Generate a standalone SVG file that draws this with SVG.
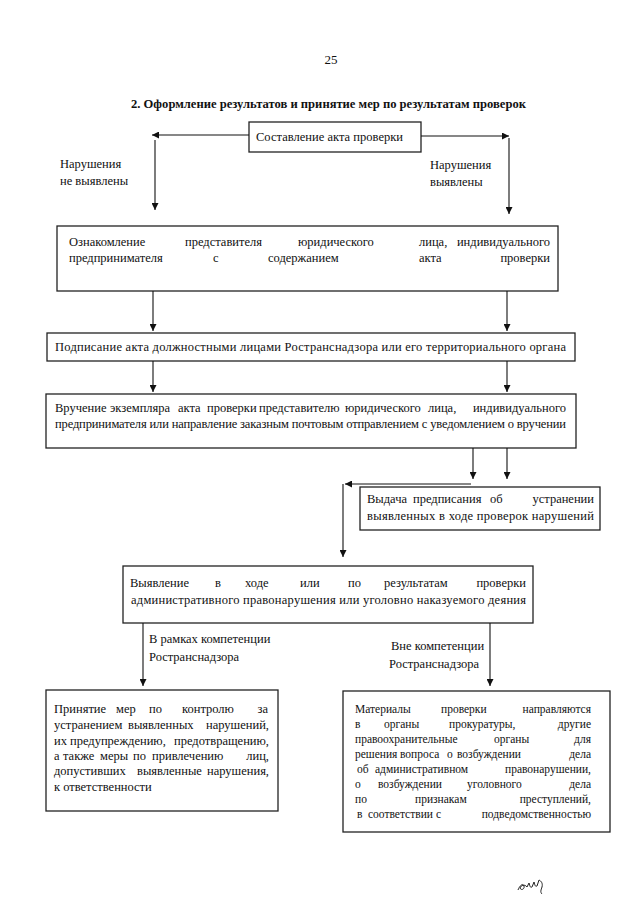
<svg xmlns="http://www.w3.org/2000/svg" width="640" height="905" viewBox="0 0 640 905">
<defs>
<marker id="ah" viewBox="0 0 8 8" refX="8" refY="4" markerWidth="7" markerHeight="7" markerUnits="userSpaceOnUse" orient="auto"><path d="M0,0 L8,4 L0,8 z" fill="#111"/></marker>
</defs>
<style>
text{font-family:"Liberation Serif","Times New Roman",serif;font-size:12.5px;fill:#111}
.title{font-weight:bold;font-size:13.5px}
.sm text{font-size:11.5px}
.box{fill:none;stroke:#222;stroke-width:1.3}
.conn path{fill:none;stroke:#111;stroke-width:1.1;marker-end:url(#ah)}
.e{text-anchor:end}
</style>
<rect width="640" height="905" fill="#fff"/>
<text x="331" y="64" text-anchor="middle" style="font-size:13px">25</text>
<text class="title" x="131" y="108" textLength="395" lengthAdjust="spacingAndGlyphs">2. Оформление результатов и принятие мер по результатам проверок</text>

<g id="n1">
<rect class="box" x="249" y="122" width="172" height="30"/>
<text x="256" y="141" textLength="147" lengthAdjust="spacing">Составление акта проверки</text>
</g>

<g id="lbl-left"><text x="60" y="168">Нарушения</text><text x="60" y="185">не выявлены</text></g>
<g id="lbl-right"><text x="430" y="169">Нарушения</text><text x="430" y="186">выявлены</text></g>

<g id="n2">
<rect class="box" x="57" y="226" width="501" height="65"/>
<text y="246"><tspan x="69">Ознакомление</tspan><tspan x="185">представителя</tspan><tspan x="298">юридического</tspan><tspan x="419">лица,</tspan><tspan x="550" class="e">индивидуального</tspan></text>
<text y="262"><tspan x="69">предпринимателя</tspan><tspan x="213">с</tspan><tspan x="268">содержанием</tspan><tspan x="419">акта</tspan><tspan x="550" class="e">проверки</tspan></text>
</g>

<g id="n3">
<rect class="box" x="47" y="333" width="528" height="28"/>
<text x="55" y="351" textLength="511" lengthAdjust="spacing">Подписание  акта должностными  лицами Ространснадзора или его территориального  органа</text>
</g>

<g id="n4">
<rect class="box" x="46" y="394" width="530" height="54"/>
<text y="412"><tspan x="55">Вручение</tspan><tspan x="110">экземпляра</tspan><tspan x="178">акта</tspan><tspan x="207">проверки</tspan><tspan x="259">представителю</tspan><tspan x="345">юридического</tspan><tspan x="428">лица,</tspan><tspan x="566" class="e">индивидуального</tspan></text>
<text x="55" y="428" textLength="511" lengthAdjust="spacing">предпринимателя или направление заказным почтовым отправлением с уведомлением о вручении</text>
</g>

<g id="n5">
<rect class="box" x="360" y="487" width="240" height="43"/>
<text y="503"><tspan x="367">Выдача</tspan><tspan x="413">предписания</tspan><tspan x="490">об</tspan><tspan x="594" class="e">устранении</tspan></text>
<text x="367" y="520" textLength="227" lengthAdjust="spacing">выявленных  в  ходе проверок нарушений</text>
</g>

<g id="n6">
<rect class="box" x="123" y="566" width="410" height="57"/>
<text y="587"><tspan x="130">Выявление</tspan><tspan x="215">в</tspan><tspan x="245">ходе</tspan><tspan x="300">или</tspan><tspan x="348">по</tspan><tspan x="384">результатам</tspan><tspan x="526" class="e">проверки</tspan></text>
<text x="131" y="604" textLength="395" lengthAdjust="spacing">административного правонарушения или уголовно наказуемого деяния</text>
</g>

<g id="lbl-in"><text x="149" y="643">В рамках компетенции</text><text x="149" y="661">Ространснадзора</text></g>
<g id="lbl-out"><text x="391" y="650">Вне компетенции</text><text x="389" y="668">Ространснадзора</text></g>

<g id="n7">
<rect class="box" x="46" y="690" width="232" height="121"/>
<text y="713"><tspan x="54">Принятие</tspan><tspan x="116">мер</tspan><tspan x="149">по</tspan><tspan x="182">контролю</tspan><tspan x="268" class="e">за</tspan></text>
<text y="729"><tspan x="54">устранением</tspan><tspan x="128">выявленных</tspan><tspan x="269" class="e">нарушений,</tspan></text>
<text y="745"><tspan x="54">их</tspan><tspan x="70">предупреждению,</tspan><tspan x="269" class="e">предотвращению,</tspan></text>
<text y="760"><tspan x="54">а</tspan><tspan x="63">также</tspan><tspan x="100">меры</tspan><tspan x="133">по</tspan><tspan x="152">привлечению</tspan><tspan x="269" class="e">лиц,</tspan></text>
<text y="775"><tspan x="54">допустивших</tspan><tspan x="137">выявленные</tspan><tspan x="269" class="e">нарушения,</tspan></text>
<text x="54" y="791">к ответственности</text>
</g>

<g id="n8" class="sm">
<rect class="box" x="343" y="691" width="267" height="141"/>
<text y="713"><tspan x="355">Материалы</tspan><tspan x="441">проверки</tspan><tspan x="591" class="e">направляются</tspan></text>
<text y="728"><tspan x="355">в</tspan><tspan x="384">органы</tspan><tspan x="449">прокуратуры,</tspan><tspan x="591" class="e">другие</tspan></text>
<text y="743"><tspan x="355">правоохранительные</tspan><tspan x="494">органы</tspan><tspan x="591" class="e">для</tspan></text>
<text y="758"><tspan x="355">решения</tspan><tspan x="400">вопроса</tspan><tspan x="447">о</tspan><tspan x="457">возбуждении</tspan><tspan x="591" class="e">дела</tspan></text>
<text y="773"><tspan x="357">об</tspan><tspan x="375">административном</tspan><tspan x="591" class="e">правонарушении,</tspan></text>
<text y="788"><tspan x="355">о</tspan><tspan x="378">возбуждении</tspan><tspan x="467">уголовного</tspan><tspan x="591" class="e">дела</tspan></text>
<text y="803"><tspan x="355">по</tspan><tspan x="415">признакам</tspan><tspan x="591" class="e">преступлений,</tspan></text>
<text y="818"><tspan x="357">в</tspan><tspan x="368">соответствии</tspan><tspan x="436">с</tspan><tspan x="591" class="e">подведомственностью</tspan></text>
</g>

<g id="connectors" class="conn">
<path d="M249,135 H152"/>
<path d="M155,140 V210"/>
<path d="M421,136 H509"/>
<path d="M509,138 V214"/>
<path d="M153,291 V331"/>
<path d="M507,291 V331"/>
<path d="M153,361 V392"/>
<path d="M507,361 V392"/>
<path d="M473,448 V479"/>
<path d="M507,448 V479"/>
<path d="M471,484 H345"/>
<path d="M343,484 V557"/>
<path d="M143,623 V686"/>
<path d="M490,623 V686"/>
</g>

<g id="signature"><path d="M518,890 c2,-5 5,-7 6,-4 c1,3 -3,5 -4,2 c1,-3 5,-4 7,-1 l2,-4 c1,3 1,5 3,4 l2,-5 c1,3 1,5 3,4 l2,-6 c2,1 4,3 3,7 c-1,3 -2,5 0,7" fill="none" stroke="#222" stroke-width="1"/></g>
</svg>
